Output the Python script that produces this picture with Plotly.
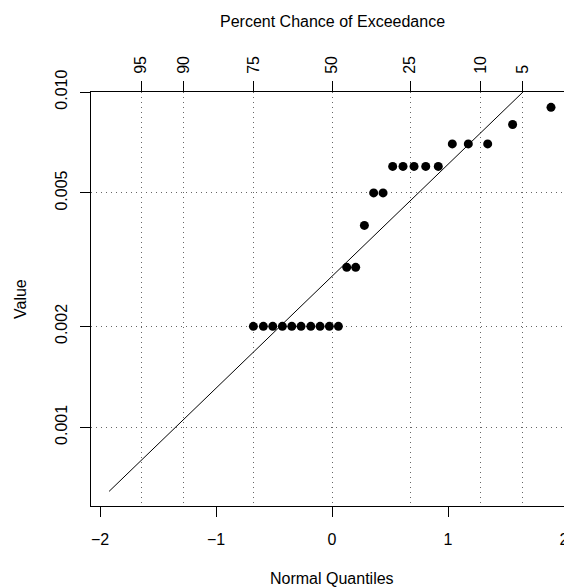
import plotly.graph_objects as go

# Data
quantiles = [-0.678, -0.592, -0.511, -0.428, -0.347, -0.267, -0.183, -0.103, -0.023, 0.055,
             0.127, 0.204, 0.279, 0.359, 0.440,
             0.523, 0.612, 0.707, 0.808, 0.916,
             1.037, 1.175, 1.342, 1.557, 1.888]
values = [0.002] * 10 + [0.003, 0.003, 0.004, 0.005, 0.005,
                         0.006, 0.006, 0.006, 0.006, 0.006,
                         0.007, 0.007, 0.007, 0.008, 0.009]

fit_x = [-1.922, 1.922]
fit_y = [0.000644, 0.01236]

bottom_ticks = [-2, -1, 0, 1, 2]
pct_labels = ["95", "90", "75", "50", "25", "10", "5"]
pct_quantiles = [-1.645, -1.2816, -0.6745, 0.0, 0.6745, 1.2816, 1.645]

y_ticks = [0.001, 0.002, 0.005, 0.010]
y_labels = ["0.001", "0.002", "0.005", "0.010"]

FONT = "Liberation Sans, Arial, Helvetica, sans-serif"
XR = [-2.078, 2.0]
YR = [-3.2347, -2.0]

fig = go.Figure()
fig.add_trace(go.Scatter(x=fit_x, y=fit_y, mode="lines", xaxis="x2", yaxis="y",
                         line=dict(color="black", width=1), showlegend=False,
                         hoverinfo="skip"))
fig.add_trace(go.Scatter(x=quantiles, y=values, mode="markers",
                         marker=dict(color="black", size=9, line=dict(width=0)),
                         showlegend=False, cliponaxis=False))

fig.update_layout(
    width=564, height=587,
    margin=dict(l=91, r=0, t=92, b=81),
    plot_bgcolor="white", paper_bgcolor="white",
    font=dict(family=FONT, size=16, color="black"),
    xaxis=dict(range=XR, tickvals=bottom_ticks, ticktext=["\u22122", "\u22121", "0", "1", "2"],
               ticks="outside", ticklen=10, tickcolor="black", tickwidth=1,
               showline=True, linecolor="black", linewidth=1,
               showgrid=False, zeroline=False, automargin=False,
               ticklabelstandoff=9, ticklabeloverflow="allow"),
    xaxis2=dict(range=XR, overlaying="x", side="top", anchor="y",
                tickvals=pct_quantiles, ticktext=pct_labels, tickangle=-90,
                ticks="outside", ticklen=10, tickcolor="black", tickwidth=1,
                showline=True, linecolor="black", linewidth=1,
                showgrid=True, gridcolor="#666666", griddash="1px,4px", gridwidth=1,
                zeroline=False, automargin=False, ticklabelstandoff=4),
    yaxis=dict(type="log", range=YR, tickvals=y_ticks, ticktext=y_labels, tickangle=-90,
               ticks="outside", ticklen=10, tickcolor="black", tickwidth=1,
               showline=True, linecolor="black", linewidth=1,
               showgrid=True, gridcolor="#666666", griddash="1px,4px", gridwidth=1,
               zeroline=False, automargin=False, ticklabelstandoff=7),
    annotations=[
        dict(text="Percent Chance of Exceedance", xref="paper", yref="paper",
             x=(332 - 91) / 473, y=(506 - 22) / 414, xanchor="center", yanchor="middle",
             showarrow=False, font=dict(size=16)),
        dict(text="Normal Quantiles", xref="paper", yref="paper",
             x=(332 - 91) / 473, y=(506 - 578) / 414, xanchor="center", yanchor="middle",
             showarrow=False, font=dict(size=16)),
        dict(text="Value", xref="paper", yref="paper", textangle=-90,
             x=(20 - 91) / 473, y=0.5, xanchor="center", yanchor="middle",
             showarrow=False, font=dict(size=16)),
    ],
)

fig.write_html("out.html")
